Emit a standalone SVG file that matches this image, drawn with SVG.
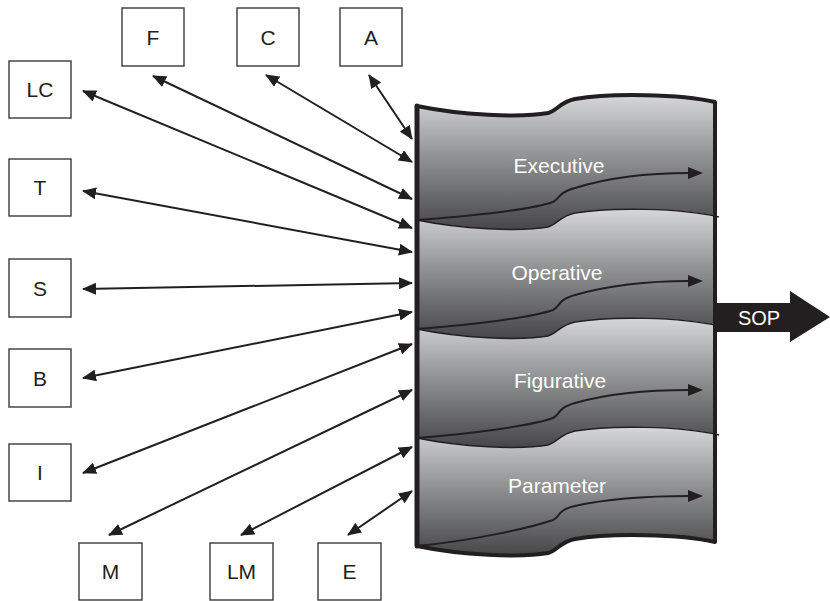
<svg xmlns="http://www.w3.org/2000/svg" width="830" height="601" viewBox="0 0 830 601">
<style>
.box{fill:#fff;stroke:#3a3a3a;stroke-width:1.4}
.lbl{font-family:"Liberation Sans",Arial,sans-serif;font-size:21px;fill:#231f20;text-anchor:middle}
.wl{font-family:"Liberation Sans",Arial,sans-serif;font-size:21px;fill:#fff;text-anchor:middle}
.con{fill:none;stroke:#231f20;stroke-width:2;marker-start:url(#ah);marker-end:url(#ah)}
.band{fill:url(#g);stroke:none}
.bnd{fill:none;stroke:#231f20;stroke-width:1.5}
.flow{fill:none;stroke:#231f20;stroke-width:2}
.fh{fill:#231f20}
</style>
<defs>
<linearGradient id="g" x1="0" y1="0" x2="0" y2="1">
<stop offset="0" stop-color="#d6d7d9"/>
<stop offset="0.45" stop-color="#929395"/>
<stop offset="1" stop-color="#47474a"/>
</linearGradient>
<marker id="ah" viewBox="0 0 14 12" refX="13" refY="6" markerWidth="14" markerHeight="12" markerUnits="userSpaceOnUse" orient="auto-start-reverse">
<path d="M0,0 L14,6 L0,12 z" fill="#231f20"/>
</marker>
</defs>

<g id="connectors">
<line class="con" x1="369" y1="75" x2="412" y2="139"/>
<line class="con" x1="266" y1="75" x2="412" y2="162"/>
<line class="con" x1="153" y1="76" x2="412" y2="199"/>
<line class="con" x1="83" y1="91" x2="412" y2="228"/>
<line class="con" x1="83" y1="191" x2="412" y2="252"/>
<line class="con" x1="83" y1="289" x2="412" y2="283"/>
<line class="con" x1="83" y1="378" x2="412" y2="312"/>
<line class="con" x1="83" y1="473" x2="412" y2="344"/>
<line class="con" x1="109" y1="535" x2="412" y2="390"/>
<line class="con" x1="241" y1="535" x2="412" y2="447"/>
<line class="con" x1="348" y1="535" x2="412" y2="491"/>
</g>

<g id="SOP">
<polygon points="717,303 790,303 790,291 830,317 790,342 790,332 717,332" fill="#231f20"/>
<text class="wl" x="759" y="325" style="font-size:20px">SOP</text>
</g>

<g id="stack">
<g id="executive">
<path class="band" d="M417,106 C460,115 520,118 548,113 C558,110 560,102 575,99 C610,93 680,94 715,102 L715,216 C680,208 610,207 575,213 C560,216 558,224 548,227 C520,232 460,229 417,220 Z"/>
<path class="flow" d="M417,220 C470,216 530,210 553,202 C560,199 557,193 575,188 C610,177 650,173 690,173"/>
<polygon class="fh" points="688,167 703,173 688,179"/>
<text class="wl" x="559" y="173">Executive</text>
</g>
<g id="operative">
<path class="band" d="M417,220 C460,229 520,232 548,227 C558,224 560,216 575,213 C610,207 680,208 715,216 L715,325 C680,317 610,316 575,322 C560,325 558,333 548,336 C520,341 460,338 417,329 Z"/>
<path class="flow" d="M417,329 C470,325 530,318 553,310 C560,307 557,300 575,295 C610,285 650,281 690,281"/>
<polygon class="fh" points="688,275 703,281 688,287"/>
<text class="wl" x="557" y="280">Operative</text>
</g>
<g id="figurative">
<path class="band" d="M417,329 C460,338 520,341 548,336 C558,333 560,325 575,322 C610,316 680,317 715,325 L715,434 C680,426 610,425 575,431 C560,434 558,442 548,445 C520,450 460,447 417,438 Z"/>
<path class="flow" d="M417,438 C470,434 530,426 553,418 C560,415 557,408 575,403 C610,393 650,390 690,390"/>
<polygon class="fh" points="688,384 703,390 688,396"/>
<text class="wl" x="560" y="388">Figurative</text>
</g>
<g id="parameter">
<path class="band" d="M417,438 C460,447 520,450 548,445 C558,442 560,434 575,431 C610,425 680,426 715,434 L715,542 C680,534 610,533 575,539 C560,542 558,550 548,553 C520,558 460,555 417,546 Z"/>
<path class="flow" d="M417,546 C470,541 530,528 553,520 C560,517 557,510 575,506 C610,498 650,496 690,496"/>
<polygon class="fh" points="688,490 703,496 688,502"/>
<text class="wl" x="557" y="493">Parameter</text>
</g>
<path class="bnd" d="M417,220 C460,229 520,232 548,227 C558,224 560,216 575,213 C610,207 680,208 719,217"/>
<path class="bnd" d="M417,329 C460,338 520,341 548,336 C558,333 560,325 575,322 C610,316 680,317 719,326"/>
<path class="bnd" d="M417,438 C460,447 520,450 548,445 C558,442 560,434 575,431 C610,425 680,426 719,435"/>
<path d="M417,106 C460,115 520,118 548,113 C558,110 560,102 575,99 C610,93 680,94 715,102 L715,542 C680,534 610,533 575,539 C560,542 558,550 548,553 C520,558 460,555 417,546 Z" fill="none" stroke="#231f20" stroke-width="4" stroke-linejoin="round"/>
<line x1="417" y1="106" x2="417" y2="546" stroke="#231f20" stroke-width="5" stroke-linecap="round"/>
</g>

<g id="F"><rect class="box" x="122" y="8" width="62" height="58"/><text class="lbl" x="153" y="44.5">F</text></g>
<g id="C"><rect class="box" x="237" y="8" width="62" height="58"/><text class="lbl" x="268" y="44.5">C</text></g>
<g id="A"><rect class="box" x="340" y="8" width="62" height="58"/><text class="lbl" x="371" y="44.5">A</text></g>
<g id="LC"><rect class="box" x="9" y="61" width="62" height="57"/><text class="lbl" x="40" y="97">LC</text></g>
<g id="T"><rect class="box" x="9" y="159" width="62" height="57"/><text class="lbl" x="40" y="195">T</text></g>
<g id="S"><rect class="box" x="9" y="259" width="62" height="58"/><text class="lbl" x="40" y="295.5">S</text></g>
<g id="B"><rect class="box" x="9" y="349" width="62" height="58"/><text class="lbl" x="40" y="385.5">B</text></g>
<g id="I"><rect class="box" x="9" y="444" width="62" height="57"/><text class="lbl" x="40" y="480">I</text></g>
<g id="M"><rect class="box" x="79" y="543" width="63" height="57"/><text class="lbl" x="110.5" y="579">M</text></g>
<g id="LM"><rect class="box" x="210" y="543" width="63" height="57"/><text class="lbl" x="241.5" y="579">LM</text></g>
<g id="E"><rect class="box" x="318" y="543" width="63" height="57"/><text class="lbl" x="349.5" y="579">E</text></g>
</svg>
